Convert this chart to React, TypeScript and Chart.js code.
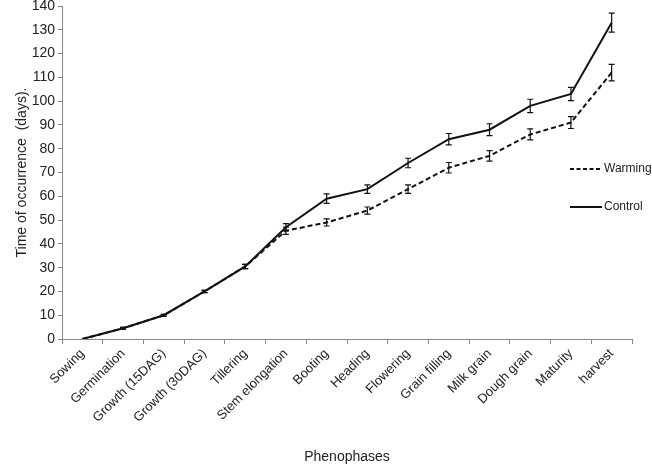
import React, { useEffect, useRef } from "react";
import { Chart, registerables } from "chart.js";

Chart.register(...registerables);

const categories = [
  "Sowing",
  "Germination",
  "Growth (15DAG)",
  "Growth (30DAG)",
  "Tillering",
  "Stem elongation",
  "Booting",
  "Heading",
  "Flowering",
  "Grain filling",
  "Milk grain",
  "Dough grain",
  "Maturity",
  "harvest",
];

const warming = [0, 4.5, 10, 20, 30.5, 45.5, 49, 54, 63, 72, 77, 86, 91, 112];
const warmingErr = [0, 0.4, 0.4, 0.5, 0.9, 1.5, 1.5, 1.5, 1.8, 2.2, 2.2, 2.3, 2.5, 3.5];
const control = [0, 4.5, 10, 20, 30.5, 47, 59, 63, 74, 84, 88, 98, 103, 133];
const controlErr = [0, 0.4, 0.4, 0.5, 0.9, 1.5, 2, 1.8, 2, 2.4, 2.5, 2.8, 2.8, 4];

const FONT = "'Liberation Sans', Arial, sans-serif";

const errorBarPlugin = {
  id: "errorBars",
  afterDatasetsDraw(chart: any) {
    const { ctx } = chart;
    const xs = chart.scales.x;
    const ys = chart.scales.y;
    const errs = [warmingErr, controlErr];
    chart.data.datasets.forEach((ds: any, di: number) => {
      const err = errs[di];
      ctx.save();
      ctx.strokeStyle = "#111";
      ctx.lineWidth = 1.2;
      ds.data.forEach((v: number, i: number) => {
        const e = err[i];
        if (!e) return;
        const x = xs.getPixelForValue(i);
        const y1 = ys.getPixelForValue(v + e);
        const y2 = ys.getPixelForValue(v - e);
        const cap = 3;
        ctx.beginPath();
        ctx.moveTo(x, y1);
        ctx.lineTo(x, y2);
        ctx.moveTo(x - cap, y1);
        ctx.lineTo(x + cap, y1);
        ctx.moveTo(x - cap, y2);
        ctx.lineTo(x + cap, y2);
        ctx.stroke();
      });
      ctx.restore();
    });
  },
};

const legendPlugin = {
  id: "customLegend",
  afterDraw(chart: any) {
    const { ctx, chartArea } = chart;
    const items = [
      { label: "Warming", dash: [4, 2.5], y: chartArea.top + 163 },
      { label: "Control", dash: [], y: chartArea.top + 201 },
    ];
    const x0 = chartArea.right - 62;
    ctx.save();
    items.forEach((it) => {
      ctx.beginPath();
      ctx.setLineDash(it.dash);
      ctx.strokeStyle = "#111";
      ctx.lineWidth = 2;
      ctx.moveTo(x0, it.y);
      ctx.lineTo(x0 + 32, it.y);
      ctx.stroke();
      ctx.setLineDash([]);
      ctx.fillStyle = "#222";
      ctx.font = `12px ${FONT}`;
      ctx.textBaseline = "middle";
      ctx.textAlign = "left";
      ctx.fillText(it.label, x0 + 34, it.y);
    });
    ctx.restore();
  },
};

export default function App() {
  const ref = useRef<HTMLCanvasElement | null>(null);

  useEffect(() => {
    document.body.style.margin = "0";
    if (!ref.current) return;
    const chart = new Chart(ref.current, {
      type: "line",
      data: {
        labels: categories,
        datasets: [
          {
            label: "Warming",
            data: warming,
            borderColor: "#111",
            borderWidth: 2,
            borderDash: [5, 3],
            pointRadius: 0,
            tension: 0,
            fill: false,
          },
          {
            label: "Control",
            data: control,
            borderColor: "#111",
            borderWidth: 2,
            pointRadius: 0,
            tension: 0,
            fill: false,
          },
        ],
      },
      options: {
        animation: false,
        responsive: false,
        devicePixelRatio: 1,
        layout: { padding: { top: 6, right: 20, left: 0, bottom: 0 } },
        plugins: {
          legend: { display: false },
          tooltip: { enabled: false },
        },
        scales: {
          x: {
            offset: true,
            grid: {
              display: true,
              offset: true,
              drawOnChartArea: false,
              drawTicks: true,
              tickLength: 5,
              color: "#888",
            },
            border: { display: true, color: "#888", width: 1 },
            ticks: {
              color: "#222",
              font: { family: FONT, size: 13 },
              maxRotation: 45,
              minRotation: 45,
              autoSkip: false,
              padding: 2,
            },
            title: {
              display: true,
              text: "Phenophases",
              color: "#222",
              font: { family: FONT, size: 14 },
              padding: { top: 0, bottom: 0 },
            },
            afterFit(scale: any) {
              scale.height = 127;
              scale.paddingLeft = 0;
              scale.paddingRight = 0;
            },
          },
          y: {
            min: 0,
            max: 140,
            grid: {
              display: true,
              drawOnChartArea: false,
              drawTicks: true,
              tickLength: 4,
              color: "#888",
            },
            border: { display: true, color: "#888", width: 1 },
            ticks: {
              stepSize: 10,
              color: "#222",
              font: { family: FONT, size: 14 },
              padding: 3,
            },
            title: {
              display: true,
              text: "Time of occurrence  (days).",
              color: "#222",
              font: { family: FONT, size: 14 },
              padding: { top: 14, bottom: 0 },
            },
            afterFit(scale: any) {
              scale.width = 62;
              scale.paddingTop = 0;
              scale.paddingBottom = 0;
            },
          },
        },
      },
      plugins: [errorBarPlugin, legendPlugin],
    });
    return () => chart.destroy();
  }, []);

  return (
    <div style={{ position: "absolute", left: 0, top: 0, width: 652, height: 466, background: "#fff" }}>
      <canvas ref={ref} width={652} height={466} style={{ width: 652, height: 466 }} />
    </div>
  );
}
